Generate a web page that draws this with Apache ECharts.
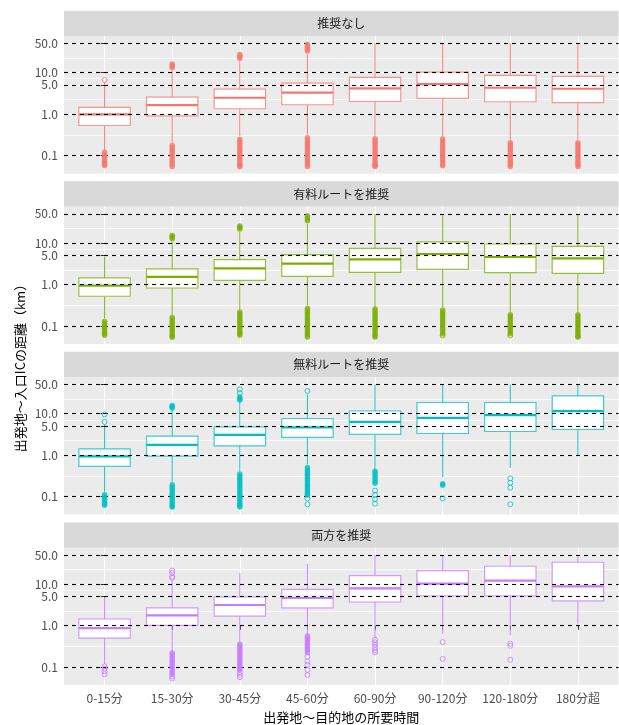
<!DOCTYPE html>
<html>
<head>
<meta charset="utf-8">
<script src="https://cdn.jsdelivr.net/npm/echarts@6/dist/echarts.min.js"></script>
<style>
html,body{margin:0;padding:0;background:#fff;}
#chart{width:619px;height:725px;}
</style>
</head>
<body>
<div id="chart"></div>
<script>
// ---------------- data ----------------
const categories = ['0-15分','15-30分','30-45分','45-60分','60-90分','90-120分','120-180分','180分超'];
const panelTitles = ['推奨なし','有料ルートを推奨','無料ルートを推奨','両方を推奨'];
const yTickValues = [0.1, 1, 5, 10, 50];
const yTickLabels = ['0.1','1.0','5.0','10.0','50.0'];
const xTitle = '出発地～目的地の所要時間';
const yTitle = '出発地～入口ICの距離（km）';

// box stats per category: [lower whisker, Q1, median, Q3, upper whisker] (km)
const boxNone = [
  [0.13, 0.53, 0.98, 1.44, 5.7],
  [0.20, 0.90, 1.64, 2.56, 11],
  [0.29, 1.34, 2.46, 3.98, 18.3],
  [0.318, 1.67, 3.25, 5.55, 27.5],
  [0.30, 2.0, 4.12, 7.57, 50],
  [0.29, 2.37, 5.25, 10.2, 50],
  [0.24, 1.97, 4.28, 8.45, 50],
  [0.24, 1.87, 4.05, 8.0, 50]
];
const boxToll = [
  [0.153, 0.525, 0.946, 1.45, 4.77],
  [0.19, 0.83, 1.53, 2.38, 10.7],
  [0.26, 1.27, 2.46, 3.98, 18.6],
  [0.313, 1.58, 3.19, 5.24, 29],
  [0.30, 1.97, 4.04, 7.43, 50],
  [0.286, 2.33, 5.45, 10.6, 50],
  [0.221, 1.94, 4.61, 9.46, 50],
  [0.221, 1.87, 4.27, 8.28, 50]
];
const boxFree = [
  [0.132, 0.536, 0.93, 1.42, 5.54],
  [0.229, 0.946, 1.77, 2.86, 12],
  [0.413, 1.67, 3.07, 4.77, 20],
  [0.598, 2.66, 4.62, 7.59, 28.5],
  [0.45, 3.14, 6.29, 11.5, 50],
  [0.292, 3.31, 7.83, 18.4, 50],
  [0.496, 3.7, 9.1, 18.4, 50],
  [1.0, 4.13, 11.4, 26.4, 50]
];
const boxBoth = [
  [0.121, 0.506, 0.88, 1.45, 5.0],
  [0.24, 1.02, 1.77, 2.67, 12.8],
  [0.405, 1.71, 3.15, 4.92, 18.6],
  [0.63, 2.67, 4.65, 7.5, 30.7],
  [0.506, 3.72, 7.92, 16.0, 50],
  [0.63, 5.2, 10.3, 21.2, 50],
  [0.585, 5.2, 12.1, 26.9, 50],
  [1.12, 3.94, 8.85, 33.5, 50]
];

// isolated outliers (km), per category
const outNone = [[6.6], [], [], [], [], [], [], []];
const outToll = [[], [], [], [], [], [0.06], [0.06], []];
const outFree = [
  [6.3, 9.5], [], [31, 38], [34.8, 0.091, 0.066],
  [0.14, 0.11, 0.088, 0.068], [0.091], [0.276, 0.217, 0.165, 0.066], []
];
const outBoth = [
  [0.105, 0.092, 0.08, 0.068],
  [21.2, 18.6, 15.2, 14.1, 0.06, 0.054],
  [0.075, 0.066, 0.058],
  [0.18, 0.138, 0.115, 0.087, 0.066],
  [0.46, 0.4, 0.35, 0.3, 0.26, 0.23],
  [0.405, 0.16],
  [0.37, 0.33, 0.152],
  []
];

// densely overlapping outliers (km), per category
const denseNone = [
  [0.12, 0.105, 0.092, 0.08, 0.07, 0.062, 0.058],
  [16, 14.5, 13, 0.176, 0.155, 0.136, 0.12, 0.105, 0.092, 0.08, 0.07, 0.062, 0.055],
  [27, 24, 21.5, 0.245, 0.215, 0.19, 0.165, 0.145, 0.128, 0.112, 0.098, 0.085, 0.075, 0.066, 0.058, 0.054],
  [47, 41, 36, 32.5, 0.27, 0.235, 0.205, 0.18, 0.158, 0.138, 0.12, 0.105, 0.092, 0.08, 0.07, 0.062, 0.055],
  [0.255, 0.222, 0.195, 0.17, 0.148, 0.13, 0.113, 0.099, 0.086, 0.075, 0.066, 0.058, 0.055],
  [0.25, 0.218, 0.19, 0.166, 0.145, 0.127, 0.11, 0.096, 0.084, 0.073, 0.064, 0.057],
  [0.205, 0.18, 0.157, 0.137, 0.12, 0.104, 0.091, 0.079, 0.069, 0.061, 0.055],
  [0.205, 0.18, 0.157, 0.137, 0.12, 0.104, 0.091, 0.079, 0.069, 0.061, 0.055]
];
const denseToll = [
  [0.13, 0.114, 0.1, 0.088, 0.077, 0.068, 0.061],
  [15.2, 13.9, 12.7, 0.162, 0.142, 0.125, 0.11, 0.096, 0.084, 0.074, 0.065, 0.058, 0.054],
  [25.6, 23.5, 21.7, 0.22, 0.193, 0.17, 0.148, 0.13, 0.114, 0.1, 0.088, 0.077, 0.068, 0.061],
  [44.5, 39, 34.5, 0.266, 0.233, 0.204, 0.178, 0.156, 0.137, 0.12, 0.105, 0.092, 0.08, 0.07, 0.062, 0.055],
  [0.26, 0.228, 0.2, 0.175, 0.153, 0.134, 0.117, 0.102, 0.09, 0.079, 0.069, 0.061, 0.055],
  [0.245, 0.215, 0.188, 0.165, 0.144, 0.126, 0.11, 0.097, 0.085, 0.074, 0.065],
  [0.19, 0.166, 0.145, 0.127, 0.111, 0.097, 0.085, 0.075, 0.066],
  [0.19, 0.166, 0.145, 0.127, 0.111, 0.097, 0.085, 0.075, 0.066, 0.058, 0.055]
];
const denseFree = [
  [0.112, 0.098, 0.086, 0.076, 0.068, 0.062],
  [15.6, 14.6, 13.6, 0.194, 0.17, 0.149, 0.13, 0.114, 0.1, 0.088, 0.077, 0.068, 0.06, 0.057],
  [25, 22.5, 21, 0.35, 0.306, 0.268, 0.235, 0.205, 0.18, 0.157, 0.138, 0.12, 0.105, 0.092, 0.08, 0.07, 0.062, 0.057],
  [0.507, 0.445, 0.39, 0.342, 0.3, 0.263, 0.23, 0.2, 0.176, 0.154, 0.135, 0.118, 0.11],
  [0.41, 0.36, 0.315, 0.275, 0.24, 0.21],
  [0.205, 0.19],
  [],
  []
];
const denseBoth = [
  [],
  [0.22, 0.193, 0.17, 0.148, 0.13, 0.114, 0.1, 0.088, 0.077, 0.068],
  [0.36, 0.315, 0.276, 0.242, 0.212, 0.186, 0.163, 0.143, 0.125, 0.11, 0.096, 0.087],
  [0.565, 0.495, 0.434, 0.38, 0.333, 0.292, 0.256, 0.224],
  [], [], [], []
];

const panelBoxes = [boxNone, boxToll, boxFree, boxBoth];
const panelOutliers = [outNone, outToll, outFree, outBoth];
const panelDense = [denseNone, denseToll, denseFree, denseBoth];
const colors = ['#F8766D', '#7CAE00', '#00BFC4', '#C77CFF'];

// ---------------- layout ----------------
const FONT = '"Noto Sans CJK JP", "Noto Sans", sans-serif';
const gridLeft = 64, gridWidth = 554.5, gridHeight = 137.4, stripH = 25.3;
const gridTops = [36, 206.6, 377.1, 547.7];
const yMin = -1.427, yMax = 1.875;

const log = Math.log10;
const logTicks = yTickValues.map(log);
const minorTicks = logTicks.slice(0, -1).map((v, i) => (v + logTicks[i + 1]) / 2);
const xIdx = categories.map((_, i) => i);

function boxRenderer(color) {
  return function (params, api) {
    const x = api.value(0);
    const lo = api.coord([x, api.value(1)]);
    const q1 = api.coord([x, api.value(2)]);
    const md = api.coord([x, api.value(3)]);
    const q3 = api.coord([x, api.value(4)]);
    const hi = api.coord([x, api.value(5)]);
    const w = api.size([1, 0])[0] * 0.76;
    const cx = lo[0];
    return {
      type: 'group',
      children: [
        { type: 'line', shape: { x1: cx, y1: hi[1], x2: cx, y2: q3[1] }, style: { stroke: color, lineWidth: 1.1, opacity: 0.85 } },
        { type: 'line', shape: { x1: cx, y1: q1[1], x2: cx, y2: lo[1] }, style: { stroke: color, lineWidth: 1.1, opacity: 0.85 } },
        { type: 'rect', shape: { x: cx - w / 2, y: q3[1], width: w, height: q1[1] - q3[1] }, style: { fill: '#FFFFFF', stroke: color, lineWidth: 1.2, strokeOpacity: 0.75 } },
        { type: 'line', shape: { x1: cx - w / 2, y1: md[1], x2: cx + w / 2, y2: md[1] }, style: { stroke: color, lineWidth: 2.2 } }
      ]
    };
  };
}

const grids = [], xAxes = [], yAxes = [], series = [], graphics = [];

gridTops.forEach((top, p) => {
  grids.push({ left: gridLeft, top: top, width: gridWidth, height: gridHeight, show: true, backgroundColor: '#EBEBEB', borderWidth: 0 });
  const isBottom = p === gridTops.length - 1;
  xAxes.push({
    type: 'value', gridIndex: p, min: -0.6, max: 7.6,
    axisLine: { show: false },
    axisTick: { show: isBottom, customValues: xIdx, length: 4, lineStyle: { color: '#333333', width: 1 } },
    axisLabel: { show: isBottom, customValues: xIdx, formatter: v => categories[Math.round(v)], color: '#4D4D4D', fontSize: 12, margin: 7, fontFamily: FONT },
    splitLine: { show: true, lineStyle: { color: '#FFFFFF', width: 1.1 } }
  });
  yAxes.push({
    type: 'value', gridIndex: p, min: yMin, max: yMax, position: 'left',
    axisLine: { show: false },
    axisTick: { show: true, customValues: logTicks, length: 4, lineStyle: { color: '#333333', width: 1 } },
    axisLabel: {
      show: true, customValues: logTicks, hideOverlap: false,
      formatter: v => { const i = logTicks.findIndex(t => Math.abs(t - v) < 1e-6); return i >= 0 ? yTickLabels[i] : ''; },
      color: '#4D4D4D', fontSize: 12, margin: 6, fontFamily: FONT
    },
    splitLine: { show: true, lineStyle: { color: '#FFFFFF', width: 1.1 } }
  });

  // strip header
  graphics.push({ type: 'rect', shape: { x: gridLeft, y: top - stripH, width: gridWidth, height: stripH }, style: { fill: '#D9D9D9' }, silent: true });
  graphics.push({ type: 'text', x: gridLeft + gridWidth / 2, y: top - stripH / 2, style: { text: panelTitles[p], fill: '#1A1A1A', font: '12px ' + FONT, textAlign: 'center', textVerticalAlign: 'middle' }, silent: true });
});

// minor gridline axes
gridTops.forEach((top, p) => {
  yAxes.push({
    type: 'value', gridIndex: p, min: yMin, max: yMax, position: 'left',
    axisLine: { show: false },
    axisTick: { show: false, customValues: minorTicks },
    axisLabel: { show: false },
    splitLine: { show: true, lineStyle: { color: '#FFFFFF', width: 0.8 } }
  });
});

panelBoxes.forEach((boxes, p) => {
  const c = colors[p];
  series.push({
    type: 'custom', xAxisIndex: p, yAxisIndex: p, z: 2, silent: true,
    renderItem: boxRenderer(c),
    encode: { x: 0, y: [1, 2, 3, 4, 5] },
    data: boxes.map((b, i) => [i].concat(b.map(log)))
  });
  const hollow = [];
  panelOutliers[p].forEach((arr, i) => arr.forEach(v => hollow.push([i, log(v)])));
  series.push({
    type: 'scatter', xAxisIndex: p, yAxisIndex: p, z: 4, silent: true,
    symbol: 'circle', symbolSize: 5,
    itemStyle: { color: 'rgba(0,0,0,0)', borderColor: c, borderWidth: 1 },
    data: hollow
  });
  const dense = [];
  panelDense[p].forEach((arr, i) => arr.forEach(v => dense.push([i, log(v)])));
  series.push({
    type: 'scatter', xAxisIndex: p, yAxisIndex: p, z: 4, silent: true,
    symbol: 'circle', symbolSize: 5.5,
    itemStyle: { color: c },
    data: dense,
    markLine: {
      silent: true, symbol: 'none', z: 3, animation: false,
      label: { show: false },
      lineStyle: { color: '#000000', type: [4, 4], width: 1.1 },
      emphasis: { disabled: true },
      data: logTicks.map(v => ({ yAxis: v }))
    }
  });
});

graphics.push({ type: 'text', x: gridLeft + gridWidth / 2, y: 717, style: { text: xTitle, fill: '#000000', font: '13px ' + FONT, textAlign: 'center', textVerticalAlign: 'middle' }, silent: true });
graphics.push({ type: 'text', x: 20, y: 365, rotation: Math.PI / 2, style: { text: yTitle, fill: '#000000', font: '13px ' + FONT, textAlign: 'center', textVerticalAlign: 'middle' }, silent: true });

const chart = echarts.init(document.getElementById('chart'), null, { renderer: 'canvas' });
chart.setOption({
  animation: false,
  backgroundColor: '#FFFFFF',
  textStyle: { fontFamily: FONT },
  grid: grids,
  xAxis: xAxes,
  yAxis: yAxes,
  series: series,
  graphic: { elements: graphics }
});
</script>
</body>
</html>
